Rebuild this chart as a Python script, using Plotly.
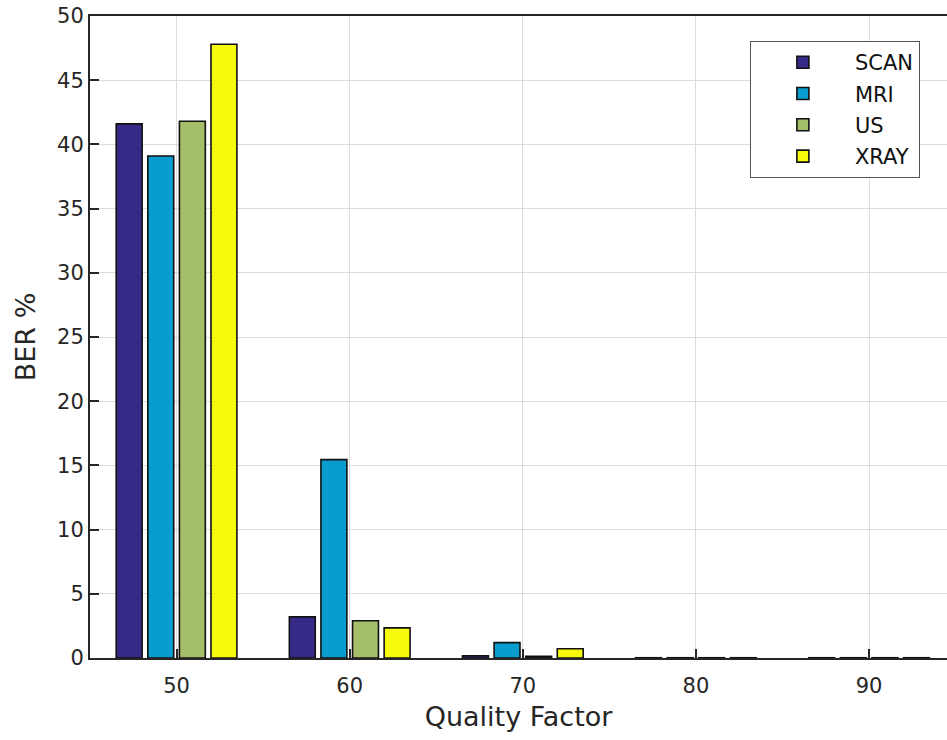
import plotly.graph_objects as go

quality = [50, 60, 70, 80, 90]
series_names = ["SCAN", "MRI", "US", "XRAY"]
scan = [41.6, 3.2, 0.18, 0.02, 0.02]
mri = [39.1, 15.45, 1.2, 0.02, 0.02]
us = [41.8, 2.9, 0.13, 0.02, 0.02]
xray = [47.8, 2.35, 0.72, 0.02, 0.02]
colors = ["#352a87", "#089ccf", "#a5be6a", "#f8fa0d"]
y_ticks = [0, 5, 10, 15, 20, 25, 30, 35, 40, 45, 50]

fig = go.Figure()
for name, vals, col in zip(series_names, [scan, mri, us, xray], colors):
    fig.add_trace(go.Bar(x=quality, y=vals, name=name, legendgroup=name,
                         marker=dict(color=col, line=dict(color="#111111", width=1.6))))

font_family = "DejaVu Sans, Liberation Sans, Arial, sans-serif"
fig.update_layout(
    width=947, height=740,
    margin=dict(l=90, r=0, t=16, b=82),
    plot_bgcolor="white", paper_bgcolor="white",
    barmode="group", bargap=0.27, bargroupgap=0.18,
    font=dict(family=font_family, size=22, color="#262626"),
    legend=dict(x=0.770, y=0.961, xanchor="left", yanchor="top",
                bgcolor="white", bordercolor="#555555", borderwidth=1,
                font=dict(size=21, color="#111111"), tracegroupgap=1,
                itemwidth=94),
    showlegend=True,
)
fig.update_xaxes(range=[45, 94.5], tickvals=quality, ticktext=[str(q) for q in quality],
                 showgrid=True, gridcolor="#dcdcdc", gridwidth=1,
                 showline=True, linecolor="#262626", linewidth=2, mirror=True,
                 ticks="inside", ticklen=9, tickcolor="#262626", tickwidth=2,
                 tickfont=dict(size=21), zeroline=False, ticklabelstandoff=8,
                 title=dict(text="Quality Factor", font=dict(size=27), standoff=10))
fig.update_yaxes(range=[0, 50], tickvals=y_ticks,
                 showgrid=True, gridcolor="#dcdcdc", gridwidth=1,
                 showline=True, linecolor="#262626", linewidth=2,
                 ticks="inside", ticklen=9, tickcolor="#262626", tickwidth=2,
                 tickfont=dict(size=21), zeroline=False,
                 title=dict(text="BER %", font=dict(size=27), standoff=14))
fig.write_html("out.html")
